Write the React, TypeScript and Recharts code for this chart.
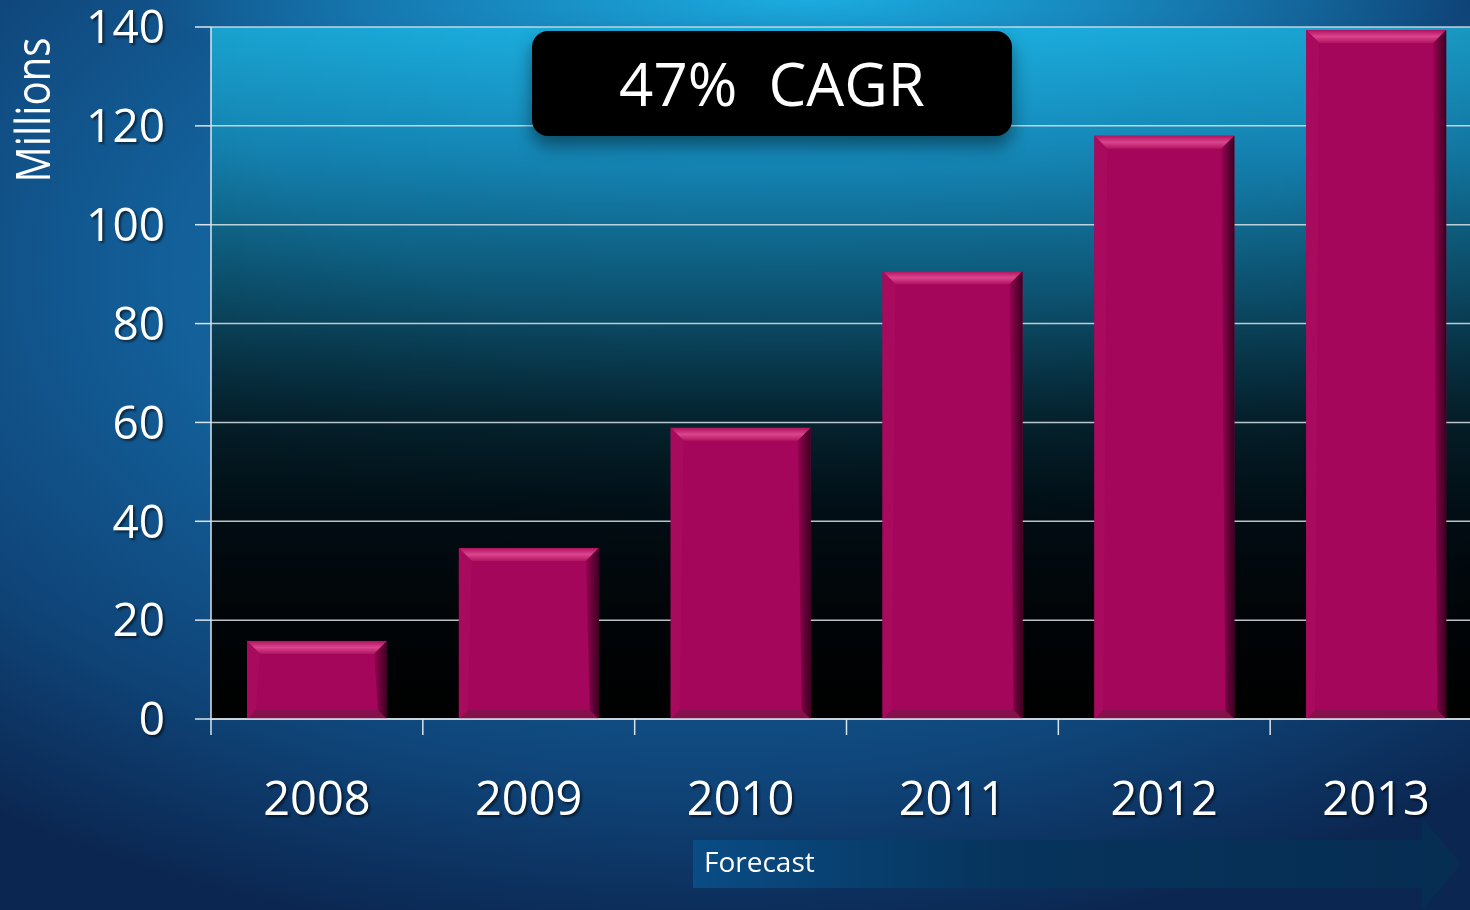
import { BarChart, Bar, XAxis, YAxis, CartesianGrid } from 'recharts';

const years = ['2008', '2009', '2010', '2011', '2012', '2013'];
const units = [15.8, 34.6, 58.9, 90.6, 118, 139.4];
const yTicks = [0, 20, 40, 60, 80, 100, 120, 140];

const data = years.map((year, i) => ({ year, units: units[i] }));

const CHART_W = 1482;
const CHART_H = 910;
const Y_AXIS_W = 211;
const BAND = (CHART_W - Y_AXIS_W) / years.length;
const FONT = '"Open Sans", "DejaVu Sans", sans-serif';
const LINE = '#dbe4ea';

function BevelBar(props: any) {
  const { x, y, width: w, height: h } = props;
  if (!h || h <= 0) return null;
  const b = Math.min(13, h / 2);
  const bb = Math.min(9, h / 2);
  return (
    <g>
      <rect x={x} y={y} width={w} height={h} fill="#a3065a" />
      <polygon
        points={`${x},${y} ${x + w},${y} ${x + w - b},${y + b} ${x + b},${y + b}`}
        fill="url(#bevelTop)"
      />
      <polygon
        points={`${x},${y + h} ${x + w},${y + h} ${x + w - bb},${y + h - bb} ${x + bb},${y + h - bb}`}
        fill="#84104c"
      />
      <polygon
        points={`${x},${y} ${x + b},${y + b} ${x + bb},${y + h - bb} ${x},${y + h}`}
        fill="#a80a5e"
      />
      <polygon
        points={`${x + w},${y} ${x + w - b},${y + b} ${x + w - bb},${y + h - bb} ${x + w},${y + h}`}
        fill="url(#bevelRight)"
      />
    </g>
  );
}

function YearTick(props: any) {
  const { x, y, payload } = props;
  const edge = x - BAND / 2;
  return (
    <g>
      <line x1={edge} y1={y} x2={edge} y2={y + 16} stroke={LINE} strokeWidth={1.5} />
      <text
        x={x}
        y={y + 96}
        textAnchor="middle"
        fill="#ffffff"
        fontSize={47}
        fontFamily={FONT}
        style={{ filter: 'drop-shadow(2px 2px 1px rgba(0,0,0,0.55))' }}
      >
        {payload.value}
      </text>
    </g>
  );
}

function MillionsLabel() {
  return (
    <text
      x={50}
      y={110}
      transform="rotate(-90, 50, 110)"
      textAnchor="middle"
      fill="#ffffff"
      fontSize={48}
      fontFamily={FONT}
      textLength={145}
      lengthAdjust="spacingAndGlyphs"
    >
      Millions
    </text>
  );
}

export default function App() {
  return (
    <div
      style={{
        position: 'fixed',
        left: 0,
        top: 0,
        width: 1470,
        height: 910,
        overflow: 'hidden',
        background:
          'radial-gradient(ellipse 45% 10% at 55% 0%, rgba(28,180,230,0.9) 0%, rgba(28,180,230,0) 100%), ' +
          'radial-gradient(ellipse 80% 75% at 48% 30%, #1879b4 0%, #13609a 45%, #0f4478 75%, #0b2650 100%)',
      }}
    >
      <BarChart
        width={CHART_W}
        height={CHART_H}
        data={data}
        margin={{ top: 27, right: 0, left: 0, bottom: 0 }}
        barCategoryGap="17%"
      >
        <defs>
          <linearGradient id="plotBg" x1="0" y1="0" x2="0" y2="1">
            <stop offset="0%" stopColor="#1cb4e6" />
            <stop offset="18%" stopColor="#168fc2" />
            <stop offset="40%" stopColor="#0d5878" />
            <stop offset="56%" stopColor="#062c3b" />
            <stop offset="70%" stopColor="#02131c" />
            <stop offset="84%" stopColor="#01070b" />
            <stop offset="100%" stopColor="#000000" />
          </linearGradient>
          <radialGradient id="plotVignette" cx="0.45" cy="0" r="0.75">
            <stop offset="0%" stopColor="#000" stopOpacity={0} />
            <stop offset="60%" stopColor="#000" stopOpacity={0.1} />
            <stop offset="100%" stopColor="#000" stopOpacity={0.3} />
          </radialGradient>
          <linearGradient id="bevelTop" x1="0" y1="0" x2="0" y2="1">
            <stop offset="0%" stopColor="#b0125f" />
            <stop offset="50%" stopColor="#da4590" />
            <stop offset="100%" stopColor="#b3145f" />
          </linearGradient>
          <linearGradient id="bevelRight" x1="0" y1="0" x2="1" y2="0">
            <stop offset="0%" stopColor="#960552" />
            <stop offset="100%" stopColor="#3a0020" />
          </linearGradient>
        </defs>
        <CartesianGrid horizontal={false} vertical={false} fill="url(#plotBg)" />
        <CartesianGrid horizontal={false} vertical={false} fill="url(#plotVignette)" />
        <CartesianGrid vertical={false} stroke={LINE} strokeWidth={1.5} strokeOpacity={0.85} />
        <XAxis
          dataKey="year"
          height={CHART_H - 719}
          interval={0}
          tickSize={0}
          tickMargin={0}
          tickLine={false}
          axisLine={{ stroke: LINE, strokeWidth: 1.5 }}
          tick={<YearTick />}
        />
        <YAxis
          width={Y_AXIS_W}
          domain={[0, 140]}
          ticks={yTicks}
          interval={0}
          tickSize={16}
          tickMargin={30}
          axisLine={{ stroke: LINE, strokeWidth: 1.5 }}
          tickLine={{ stroke: LINE, strokeWidth: 1.5 }}
          tick={{
            fill: '#ffffff',
            fontSize: 46,
            fontFamily: FONT,
            style: { filter: 'drop-shadow(2px 2px 1px rgba(0,0,0,0.55))' },
          }}
          label={<MillionsLabel />}
        />
        <Bar dataKey="units" shape={<BevelBar />} isAnimationActive={false} />
      </BarChart>

      <div
        style={{
          position: 'absolute',
          left: 532,
          top: 31,
          width: 480,
          height: 105,
          borderRadius: 16,
          background: '#000',
          boxShadow: '0 10px 18px rgba(0,0,0,0.45)',
          color: '#fff',
          fontFamily: FONT,
          fontSize: 60,
          lineHeight: '105px',
          textAlign: 'center',
          whiteSpace: 'pre',
        }}
      >
        {'47%  CAGR'}
      </div>

      <svg
        width={1470}
        height={910}
        style={{ position: 'absolute', left: 0, top: 0, pointerEvents: 'none' }}
      >
        <defs>
          <linearGradient id="forecastFill" x1="0" y1="0" x2="1" y2="0">
            <stop offset="0%" stopColor="#0a4c85" />
            <stop offset="40%" stopColor="#06345c" />
            <stop offset="100%" stopColor="#062d52" />
          </linearGradient>
        </defs>
        <polygon
          points="693,840 1422,840 1422,818 1461,864 1422,910 1422,888 693,888"
          fill="url(#forecastFill)"
        />
        <text x={704} y={872} fill="#ffffff" fontSize={28} fontFamily={FONT}>
          Forecast
        </text>
      </svg>
    </div>
  );
}
